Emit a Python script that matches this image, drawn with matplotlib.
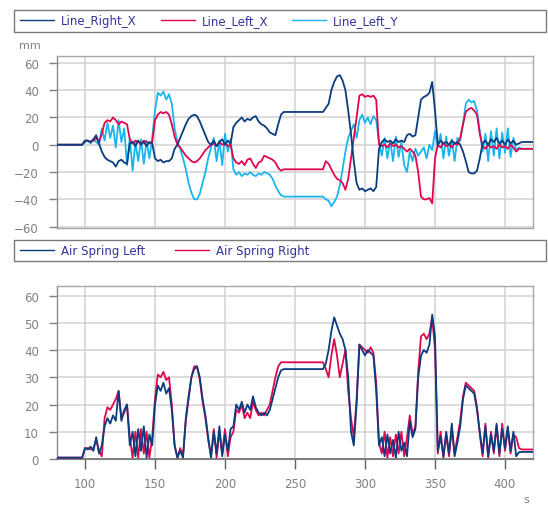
import numpy as np
import matplotlib.pyplot as plt
from matplotlib.patches import Rectangle

plt.rcParams['font.family'] = 'DejaVu Sans'

# time axis, one reading every 2 s
time_s = np.arange(80, 421, 2)

# top chart (mm)
line_right_x = [
    0, 0, 0, 0, 0, 0, 0, 0, 0, 0,
    3, 3, 2, 4, 7, 1, -5, -9, -11, -12,
    -13, -16, -12, -11, -13, -14, 1, 2, -1, 3,
    0, 2, -1, 2, 1, -10, -12, -11, -13, -12,
    -12, -10, -3, 0, 5, 10, 15, 19, 21, 22,
    21, 17, 12, 7, 2, 0, 3, -1, 2, 4,
    0, 3, 1, 13, 16, 18, 20, 17, 19, 18,
    20, 21, 17, 15, 14, 12, 9, 8, 7, 15,
    22, 24, 24, 24, 24, 24, 24, 24, 24, 24,
    24, 24, 24, 24, 24, 24, 27, 30, 40, 46,
    50, 51, 47, 40, 25, 8, -12, -28, -33, -32,
    -34, -33, -32, -34, -31, -3, 2, 4, 2, 3,
    1, 4, 2, 3, 2, 7, 8, 6, 7, 20,
    33, 35, 36, 38, 46, 25, 0, 3, 1, 2,
    0, 3, 1, 2, 0, -5, -12, -20, -21, -21,
    -19, -10, 1, 3, 0, 4, 2, 5, 1, 3,
    0, 4, 1, 3, 0, 1, 2, 2, 2, 2,
    2,
]
line_left_x = [
    0, 0, 0, 0, 0, 0, 0, 0, 0, 0,
    3, 3, 2, 3, 5, 2, 8, 16, 18, 17,
    20, 18, 15, 17, 16, 15, 4, 1, 3, 2,
    1, 3, 2, 1, 2, 18, 22, 24, 23, 24,
    22, 15, 6, 0, -2, -5, -8, -10, -12, -13,
    -12, -10, -7, -4, -2, 0, 1, -1, 2, 0,
    1, -1, 0, -10, -13, -14, -12, -15, -11, -10,
    -14, -17, -13, -12, -8, -9, -10, -11, -13, -17,
    -19, -18, -18, -18, -18, -18, -18, -18, -18, -18,
    -18, -18, -18, -18, -18, -18, -12, -14, -18, -22,
    -25, -26, -28, -33, -25, -10, 5, 20, 36, 37,
    35, 36, 35, 36, 33, 0, -1, 0, -2, 1,
    -1, 0, -2, -1, -3, -5, -3, -5, -8, -20,
    -38, -40, -40, -39, -43, -10, 0, -2, 1, -1,
    0, -2, 1, 0, 5, 15, 24, 26, 27, 25,
    22, 8, -1, -3, 0, -2, -1, -3, 0, -2,
    -1, -3, 0, -2, -5, -3, -3, -3, -3, -3,
    -3,
]
line_left_y = [
    0, 0, 0, 0, 0, 0, 0, 0, 0, 0,
    2, 3, 1, 4, 2, 0, 12, 3, 16, 5,
    14, -2, 18, 2, 12, -15, 5, -19, 2, -12,
    4, -14, 3, -10, 5, 25, 38, 36, 39, 33,
    37, 30, 12, 2, -3, -10, -18, -28, -35, -40,
    -40, -36, -28, -20, -10, -2, 5, -12, 3, -15,
    8, -5, 4, -18, -22, -20, -23, -21, -22, -20,
    -22, -23, -21, -22, -20, -21, -22, -25, -30, -34,
    -37, -38, -38, -38, -38, -38, -38, -38, -38, -38,
    -38, -38, -38, -38, -38, -38, -40, -41, -45, -42,
    -38, -30, -18, -5, 5, 10, 15, 5, 18, 22,
    16, 20, 15, 21, 18, 2, -8, 5, -10, 3,
    -12, 6, -9, 2, -15, -20, -5, -12, -3, -8,
    -5, -2, -10, 0, -4, 10, -2, 8, -10, 6,
    -8, 4, -12, 5, 3, 15, 30, 33, 31, 32,
    25, 10, -5, 8, -12, 10, -8, 12, -10, 9,
    -6, 12, -9, 5, -4, -2, -3, -3, -3, -3,
    -3,
]

# bottom chart
air_spring_left = [
    0.5, 0.5, 0.5, 0.5, 0.5, 0.5, 0.5, 0.5, 0.5, 0.5,
    4, 3.5, 4.5, 3, 8, 2, 5, 12, 15, 13,
    16, 14, 25, 14, 18, 20, 5, 10, 1, 11,
    3, 12, 0.5, 9, 5, 20, 27, 25, 28, 24,
    26, 18, 5, 0.5, 3, 0.5, 15, 23, 30, 33,
    34, 30, 22, 16, 8, 0.5, 10, 2, 12, 1,
    9, 3, 11, 12, 20, 18, 21, 17, 20, 18,
    23, 19, 17, 16, 17, 16, 18, 22, 26, 30,
    32.5, 33, 33, 33, 33, 33, 33, 33, 33, 33,
    33, 33, 33, 33, 33, 33, 35, 40, 47, 52,
    49, 46, 44, 40, 30, 10, 5, 20, 42, 40,
    38, 40, 39, 38, 25, 5, 8, 1, 9, 2,
    7, 0.5, 10, 3, 6, 1, 14, 8, 11, 30,
    38, 40, 39, 42, 53, 45, 3, 8, 1, 10,
    2, 13, 1, 6, 12, 22, 27, 26, 25, 24,
    18, 10, 2, 12, 1, 9, 3, 13, 2, 11,
    4, 12, 3, 10, 1, 2.5, 2.6, 2.6, 2.6, 2.6,
    2.6,
]
air_spring_right = [
    0.5, 0.5, 0.5, 0.5, 0.5, 0.5, 0.5, 0.5, 0.5, 0.5,
    4, 4, 3.5, 4, 7, 3, 1, 15, 19, 18,
    20, 22, 25, 15, 17, 20, 8, 0.5, 10, 0.5,
    11, 2, 10, 0.5, 8, 22, 31, 30, 32, 29,
    30, 20, 5, 0.5, 4, 1, 14, 22, 30, 34,
    34, 29, 21, 15, 7, 1, 11, 0.5, 10, 2,
    11, 1, 8, 10, 18, 17, 20, 15, 17, 15,
    21, 18, 16, 17, 16, 18, 20, 25, 30, 34,
    35.5, 35.5, 35.5, 35.5, 35.5, 35.5, 35.5, 35.5, 35.5, 35.5,
    35.5, 35.5, 35.5, 35.5, 35.5, 35.5, 33, 30, 38, 44,
    38, 30, 35, 40, 25, 15, 8, 22, 42, 41,
    40, 39, 41, 39, 28, 6, 2, 10, 0.5, 8,
    1, 9, 2, 10, 1, 8, 16, 9, 12, 32,
    45, 46, 44, 46, 52, 40, 2, 10, 0.5, 9,
    1, 11, 2, 8, 14, 23, 28, 27, 26, 25,
    19, 9, 1, 13, 0.5, 10, 2, 12, 1, 13,
    3, 11, 2, 9, 8, 4, 3.5, 3.5, 3.5, 3.5,
    3.5,
]

x_ticks = [100, 150, 200, 250, 300, 350, 400]
top_ticks = [-60, -40, -20, 0, 20, 40, 60]
bottom_ticks = [0, 10, 20, 30, 40, 50, 60]

NAVY = '#0b3d7e'
RED = '#e0064e'
CYAN = '#19b5ef'
GRAY_TXT = '#808080'
LEG_TXT = '#333399'
LW = 1.3

W, H = 548, 506
fig = plt.figure(figsize=(W / 100, H / 100), dpi=100)
ax1 = fig.add_axes([57 / W, 1 - 229 / H, (533 - 57) / W, (229 - 57) / H])
ax2 = fig.add_axes([57 / W, 1 - 460 / H, (533 - 57) / W, (460 - 287) / H])


def style(ax):
    ax.grid(True, color='#d2d2d2', lw=1.1)
    ax.set_axisbelow(True)
    for s in ax.spines.values():
        s.set_color('#a8a8a8')
        s.set_linewidth(1.0)
    ax.spines['left'].set_color('#8a8a8a')
    ax.tick_params(axis='y', length=6, width=1, color='#808080',
                   labelcolor=GRAY_TXT, labelsize=8.5, pad=7)
    ax.set_xlim(80, 420)
    ax.set_xticks(x_ticks)


# top chart
ly, = ax1.plot(time_s, line_left_y, color=CYAN, lw=LW, zorder=2, label='Line_Left_Y')
lx, = ax1.plot(time_s, line_left_x, color=RED, lw=LW, zorder=3, label='Line_Left_X')
rx, = ax1.plot(time_s, line_right_x, color=NAVY, lw=LW, zorder=4, label='Line_Right_X')
style(ax1)
ax1.set_ylim(-61, 65)
ax1.set_yticks(top_ticks)
ax1.tick_params(axis='x', length=0, labelbottom=False)

# bottom chart
ar, = ax2.plot(time_s, air_spring_right, color=RED, lw=LW, zorder=3, label='Air Spring Right')
al, = ax2.plot(time_s, air_spring_left, color=NAVY, lw=LW, zorder=4, label='Air Spring Left')
style(ax2)
ax2.set_ylim(0, 63.5)
ax2.set_yticks(bottom_ticks)
ax2.spines['bottom'].set_color('#808080')
ax2.spines['bottom'].set_linewidth(1.5)
ax2.tick_params(axis='x', length=7, width=1, color='#606060',
                labelcolor=GRAY_TXT, labelsize=8.5, pad=6)

# legends in boxes above each chart
for y_top, y_bot in [(11, 33), (241, 262)]:
    fig.add_artist(Rectangle((14 / W, 1 - y_bot / H), (546 - 14) / W, (y_bot - y_top) / H,
                             transform=fig.transFigure, fill=False,
                             edgecolor='#7a7a7a', lw=1.0))

leg1 = fig.legend(handles=[rx, lx, ly], loc='center left',
                  bbox_to_anchor=(20 / W, 1 - 22 / H), ncol=3, frameon=False,
                  fontsize=8.5, handlelength=2.9, handletextpad=0.6,
                  columnspacing=2.0, labelcolor=LEG_TXT, borderpad=0, borderaxespad=0)
leg2 = fig.legend(handles=[al, ar], loc='center left',
                  bbox_to_anchor=(20 / W, 1 - 251.5 / H), ncol=2, frameon=False,
                  fontsize=8.5, handlelength=2.9, handletextpad=0.6,
                  columnspacing=2.5, labelcolor=LEG_TXT, borderpad=0, borderaxespad=0)
for leg in (leg1, leg2):
    for h in leg.get_lines():
        h.set_linewidth(1.0)

fig.text(19 / W, 1 - 46 / H, 'mm', color=GRAY_TXT, fontsize=8, va='center', ha='left')
fig.text(526 / W, 1 - 500 / H, 's', color=GRAY_TXT, fontsize=8, va='center', ha='center')

fig.savefig('out.png', dpi=100)
